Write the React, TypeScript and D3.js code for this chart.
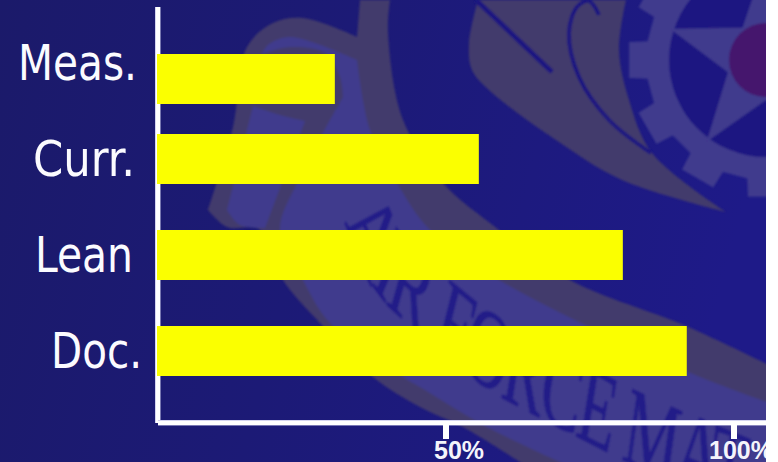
import React from "react";
import * as d3 from "d3";

const categories = ["Meas.", "Curr.", "Lean", "Doc."];
const percentages = [30.7, 55.7, 80.7, 91.8];
const tickValues = [50, 100];
const tickLabels = ["50%", "100%"];

const WIDTH = 778;
const HEIGHT = 462;
const SLIDE_RIGHT = 766;

const BAND = "#3f3a8d";
const TAUPE = "#433b6c";
const NAVY = "#1d1981";

const x = d3.scaleLinear().domain([0, 100]).range([158, 734]);
const rowY = d3.scalePoint<string>().domain(categories).range([63, 351]);

// The top bar sits a little lower than the regular row rhythm.
const barShift: Record<string, number> = { "Meas.": 16 };
const barHeight = 50;
const labelRight: Record<string, number> = { "Meas.": 137, "Curr.": 135, Lean: 133, "Doc.": 142 };
const labelWidth: Record<string, number> = { "Meas.": 119, "Curr.": 102, Lean: 98, "Doc.": 91 };
const tickLabelStart = [434, 709];

type Pt = [number, number];
const curve = d3.line().curve(d3.curveCatmullRom.alpha(0.5));
const shape = (...edges: Pt[][]) =>
  edges.map((e, i) => (i === 0 ? curve(e)! : "L" + curve(e)!.slice(1))).join("") + "Z";

// Scroll ribbon silhouette
const ribbonOuter = shape(
  [[208, 210], [233, 127], [247, 47], [273, 23], [303, 18], [357, 37]],
  [[360, 0], [390, 0]],
  [[390, 0], [388, 33], [403, 120], [443, 183], [490, 223], [570, 280], [686, 326], [775, 368]],
  [[775, 470], [532, 470]],
  [[520, 462], [463, 427], [420, 407], [373, 377], [320, 323], [283, 280], [260, 230], [227, 227], [208, 210]],
);
const ribbonFace = shape(
  [[262, 54], [268, 45], [290, 37], [357, 60]],
  [[357, 60], [370, 130], [397, 183], [430, 230], [499, 280], [686, 371], [775, 405]],
  [[775, 470], [575, 470]],
  [[560, 462], [487, 427], [420, 387], [403, 377], [330, 323], [303, 280], [280, 230], [297, 183], [323, 133], [343, 97]],
  [[343, 97], [340, 77], [325, 53], [290, 47], [262, 54]],
);
const ribbonTail = shape(
  [[253, 106], [280, 115], [305, 121]],
  [[305, 121], [265, 228]],
  [[265, 228], [240, 225], [227, 210]],
  [[227, 210], [253, 106]],
);
const feather = shape(
  [[478, 0], [469, 43], [472, 70], [489, 90], [556, 140], [622, 180], [726, 212]],
  [[726, 212], [652, 153], [629, 100], [619, 50], [626, 0]],
);
const quill = curve([[599, 15], [589, 1], [577, 7], [569, 33], [579, 77], [609, 120], [651, 153]])!;

// The crest lettering is set on an arc in a space squeezed vertically, then stretched back.
const LETTER_STRETCH = 1.8;
const crestBaseline = curve(
  ([[345, 222], [372, 285], [420, 335], [490, 390], [555, 425], [640, 468], [740, 510], [860, 560]] as Pt[]).map(
    ([px, py]) => [px, py / LETTER_STRETCH] as Pt,
  ),
)!;

// Gear hub, centred at the right edge of the slide
const hub: Pt = [766, 60];
const polar = (r: number, deg: number): Pt => [
  hub[0] + r * Math.cos((deg * Math.PI) / 180),
  hub[1] + r * Math.sin((deg * Math.PI) / 180),
];
const gearOutline = () => {
  const pts: Pt[] = [];
  for (let a = 0; a < 360; a += 30) {
    pts.push(polar(120, a - 9), polar(138, a - 7.5), polar(138, a + 7.5), polar(120, a + 9));
  }
  return "M" + pts.map((p) => p.join(",")).join("L") + "Z";
};
const starOutline = () => {
  const pts: Pt[] = [];
  for (let i = 0; i < 10; i++) pts.push(polar(i % 2 ? 40 : 101, -90 + i * 36));
  return "M" + pts.map((p) => p.join(",")).join("L") + "Z";
};

export default function App() {
  return (
    <svg
      width={WIDTH}
      height={HEIGHT}
      viewBox={`0 0 ${WIDTH} ${HEIGHT}`}
      style={{ position: "absolute", left: 0, top: 0, display: "block" }}
    >
      <defs>
        <linearGradient id="slideBg" x1="0" y1="0" x2="1" y2="0.15">
          <stop offset="0" stopColor="#1b1a6a" />
          <stop offset="0.45" stopColor="#1c1a76" />
          <stop offset="1" stopColor="#1e1a88" />
        </linearGradient>
        <filter id="soft" x="-5%" y="-5%" width="110%" height="110%">
          <feGaussianBlur stdDeviation="0.8" />
        </filter>
        <path id="crestBaseline" d={crestBaseline} />
      </defs>

      <rect width={WIDTH} height={HEIGHT} fill="url(#slideBg)" />

      {/* Faint crest behind the chart */}
      <g filter="url(#soft)">
        <path d={ribbonOuter} fill={TAUPE} />
        <path d={ribbonFace} fill={BAND} />
        <path d={ribbonTail} fill={BAND} />
        <path d={feather} fill={TAUPE} />
        <path d="M476,0 L552,72" stroke={NAVY} strokeWidth={5} fill="none" />
        <path d={quill} stroke={NAVY} strokeWidth={4} fill="none" />
        <path d={gearOutline()} fill={BAND} />
        <circle cx={hub[0]} cy={hub[1]} r={97} fill={NAVY} />
        <path d={starOutline()} fill={BAND} />
        <circle cx={hub[0]} cy={hub[1]} r={37} fill="#45186d" />
        <text
          transform={`scale(1,${LETTER_STRETCH})`}
          fontFamily="Liberation Serif"
          fontSize={62}
          letterSpacing={-2.5}
          fill="#231c88"
          stroke="#231c88"
          strokeWidth={0.5}
        >
          <textPath href="#crestBaseline">AIR FORCE MAT</textPath>
        </text>
      </g>

      {/* Axes */}
      <rect x={155} y={7} width={5.5} height={416} fill="#d4d4f0" />
      <rect x={156} y={7} width={4} height={416} fill="#ffffff" />
      <rect x={158} y={420} width={SLIDE_RIGHT - 158} height={5.5} fill="#d4d4f0" />
      <rect x={158} y={421} width={SLIDE_RIGHT - 158} height={4} fill="#ffffff" />
      {tickValues.map((t, i) => (
        <g key={t}>
          <rect x={x(t) - 3} y={425} width={6} height={14} fill="#ffffff" />
          <text
            x={tickLabelStart[i]}
            y={459}
            fontFamily="Liberation Sans"
            fontWeight={700}
            fontSize={25}
            fill="#f4f4fb"
          >
            {tickLabels[i]}
          </text>
        </g>
      ))}

      {/* Bars and row labels */}
      {categories.map((c, i) => {
        const cy = rowY(c) ?? 0;
        const shift = barShift[c] ?? 0;
        return (
          <g key={c}>
            <rect
              x={x(0) - 1}
              y={cy - barHeight / 2 + shift}
              width={x(percentages[i]) - x(0) + 1}
              height={barHeight}
              fill="#fbff00"
            />
            <text
              x={labelRight[c] - labelWidth[c]}
              y={cy + 17}
              textLength={labelWidth[c]}
              lengthAdjust="spacingAndGlyphs"
              fontFamily="DejaVu Sans"
              fontStretch="condensed"
              fontSize={49}
              fill="#fbfbff"
            >
              {c}
            </text>
          </g>
        );
      })}

      {/* Slide ends short of the window */}
      <rect x={SLIDE_RIGHT} y={0} width={WIDTH - SLIDE_RIGHT} height={HEIGHT} fill="#ffffff" />
    </svg>
  );
}
